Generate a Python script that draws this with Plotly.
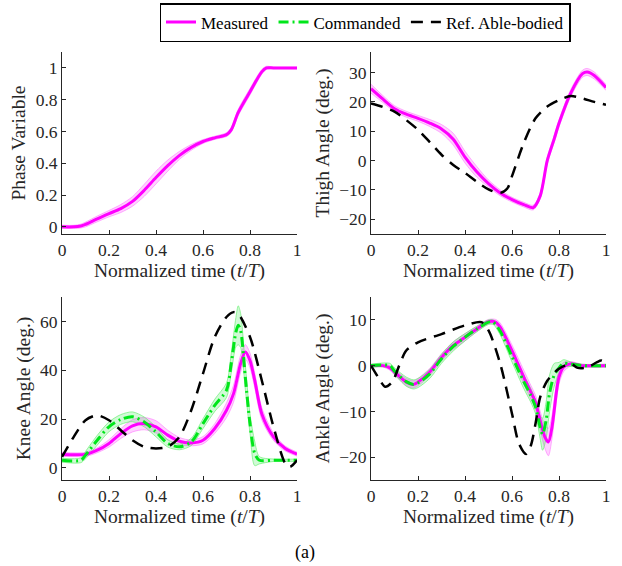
import plotly.graph_objects as go
from plotly.subplots import make_subplots

# ---------------- data ----------------
x_ticks = [0, 0.2, 0.4, 0.6, 0.8, 1]
x_tick_labels = ["0", "0.2", "0.4", "0.6", "0.8", "1"]

# Phase variable (measured)
phase_t = [0, 0.05, 0.08, 0.1, 0.15, 0.2, 0.25, 0.3, 0.35, 0.4, 0.45, 0.5, 0.55, 0.6, 0.65, 0.7,
           0.72, 0.75, 0.8, 0.85, 0.87, 0.9, 1.0]
phase_meas = [0, 0, 0.005, 0.015, 0.05, 0.083, 0.115, 0.16, 0.23, 0.31, 0.385, 0.45, 0.50, 0.537,
              0.56, 0.58, 0.61, 0.72, 0.85, 0.975, 1.0, 1.0, 1.0]
phase_sd = [0.01, 0.01, 0.012, 0.015, 0.018, 0.02, 0.025, 0.03, 0.038, 0.04, 0.035, 0.025, 0.018,
            0.012, 0.01, 0.012, 0.015, 0.02, 0.02, 0.015, 0.01, 0.005, 0.005]

# Thigh angle
thigh_t = [0, 0.05, 0.1, 0.15, 0.2, 0.25, 0.3, 0.35, 0.4, 0.45, 0.5, 0.55, 0.6, 0.65, 0.69, 0.72,
           0.75, 0.78, 0.8, 0.85, 0.9, 0.92, 0.95, 1.0]
thigh_meas = [24.5, 21, 17.7, 15.8, 14.4, 12.8, 10.8, 7.3, 1.2, -3.8, -7.8, -11, -13.3, -15, -16,
              -12, 0, 7.5, 12.7, 23, 29.6, 30.2, 29, 24.9]
thigh_sd = [1.5, 1.2, 1, 1, 1, 1.2, 1.5, 2, 2, 1.8, 1.2, 1, 0.8, 0.8, 0.8, 1, 1.2, 1.2, 1.2, 1.2,
            1.2, 1.2, 1.2, 1]
thigh_ref_t = [0, 0.05, 0.1, 0.15, 0.2, 0.25, 0.3, 0.35, 0.4, 0.45, 0.5, 0.55, 0.58, 0.6, 0.65,
               0.7, 0.75, 0.8, 0.85, 0.9, 0.95, 1.0]
thigh_ref = [19.5, 18.3, 16.7, 13.8, 10.5, 6.3, 2, -1.5, -4.2, -7.2, -9.8, -11, -9.5, -5.3, 6,
             14.4, 18.4, 20.6, 22, 21.2, 20, 19]

# Knee angle
knee_meas_t = [0, 0.1, 0.15, 0.2, 0.25, 0.3, 0.35, 0.4, 0.45, 0.5, 0.55, 0.6, 0.65, 0.7, 0.73,
               0.76, 0.78, 0.8, 0.82, 0.85, 0.9, 0.95, 1.0]
knee_meas = [5.5, 5.5, 7.2, 10, 14, 17.2, 18.1, 16.8, 13.4, 10.9, 10.2, 11.3, 16.1, 23.6, 30.4,
             42.7, 47.5, 44, 35.9, 22.2, 12.7, 7.9, 5.6]
knee_meas_sd = [0.8, 0.8, 1, 1.5, 2, 2.5, 2.5, 2.5, 2, 1.5, 1.2, 1.5, 2, 3, 3.5, 3.5, 3, 3, 3,
                2.5, 1.5, 1, 0.8]
knee_cmd_t = [0, 0.08, 0.1, 0.15, 0.2, 0.25, 0.3, 0.35, 0.4, 0.45, 0.5, 0.55, 0.6, 0.65, 0.7,
              0.72, 0.74, 0.75, 0.76, 0.78, 0.8, 0.82, 0.84, 0.9, 1.0]
knee_cmd = [3.1, 3.1, 5.2, 11.3, 16.8, 19.8, 20.9, 18.8, 14.7, 10, 8.6, 10.6, 18.1, 25.6, 31.8,
            42.7, 55.6, 58.4, 56.3, 37.2, 18.1, 5.9, 3.1, 3.1, 3.1]
knee_cmd_sd = [0.8, 1, 1.5, 2, 2, 2, 2, 2, 2, 1.5, 1.2, 1.5, 2, 2.5, 3, 4, 6, 8, 7, 5, 4, 5, 1.5,
               0.5, 0.5]
knee_ref_t = [0, 0.05, 0.1, 0.15, 0.2, 0.25, 0.3, 0.35, 0.4, 0.45, 0.5, 0.55, 0.6, 0.65, 0.7,
              0.73, 0.75, 0.8, 0.85, 0.9, 0.95, 0.97, 1.0]
knee_ref = [4.5, 12.7, 19.5, 21.5, 19.5, 15.4, 11.3, 8.6, 7.9, 8.6, 12.7, 23.6, 38.6, 53.6, 61.8,
            63.8, 63.1, 53.6, 35.9, 16.8, 1.8, 0.4, 3.1]

# Ankle angle
ankle_meas_t = [0, 0.05, 0.08, 0.1, 0.15, 0.18, 0.2, 0.25, 0.3, 0.35, 0.4, 0.45, 0.5, 0.53, 0.55,
                0.6, 0.65, 0.68, 0.7, 0.72, 0.74, 0.755, 0.77, 0.79, 0.8, 0.82, 0.85, 0.9, 1.0]
ankle_meas = [0, 0, -0.5, -1.4, -3.6, -4.1, -3.6, -1.4, 1.8, 4.4, 6.2, 8, 9.6, 9.5, 8.4, 3.3,
              -2.5, -5.8, -8, -12, -15.6, -16.7, -13.5, -5.4, -2.5, -0.3, 0.4, 0, 0]
ankle_meas_sd = [0.3, 0.3, 0.5, 0.6, 0.8, 0.8, 0.8, 0.8, 0.8, 0.8, 0.8, 0.6, 0.5, 0.6, 0.9, 1.2,
                 1.5, 1.5, 1.5, 2, 2.5, 3, 2.5, 2, 1.5, 1, 0.5, 0.3, 0.3]
ankle_cmd_t = [0, 0.08, 0.1, 0.15, 0.18, 0.2, 0.25, 0.3, 0.35, 0.4, 0.45, 0.5, 0.52, 0.55, 0.6,
               0.65, 0.68, 0.7, 0.72, 0.73, 0.745, 0.76, 0.78, 0.8, 0.82, 0.85, 0.9, 1.0]
ankle_cmd = [0, 0, -1.2, -3.5, -4.1, -3.8, -1.8, 1.5, 4.2, 6.2, 8, 9.5, 9.5, 7.5, 2, -3.5, -6.5,
             -9, -13.5, -15, -12, -6, -2, -0.5, 0.5, 0.3, 0, 0]
ankle_cmd_sd = [0.3, 0.5, 0.7, 1, 1, 1, 1, 1, 1, 0.8, 0.6, 0.5, 0.5, 0.8, 1.2, 1.5, 1.5, 1.5,
                2.5, 3.5, 4, 4, 2.5, 1.2, 0.8, 0.5, 0.3, 0.3]
ankle_ref_t = [0, 0.03, 0.06, 0.09, 0.12, 0.15, 0.2, 0.3, 0.4, 0.47, 0.5, 0.55, 0.6, 0.63, 0.66,
               0.68, 0.7, 0.72, 0.75, 0.8, 0.85, 0.88, 0.92, 0.96, 0.98, 1.0]
ankle_ref = [0, -2.5, -4.6, -3.6, 0, 3.3, 5.1, 6.9, 8.8, 9.5, 7.7, 0.4, -10.5, -17.1, -19.3,
             -17.5, -12.7, -6.9, -3.3, -0.7, 0.4, -0.5, -0.4, 0.7, 1.1, 0.4]

# ---------------- styling ----------------
FONT = "Liberation Serif"
MAG = "#ff00ff"
GRN = "#00e61a"
AX = "#262626"

fig = make_subplots(rows=2, cols=2)


def band(t, m, sd, row, col, fill, edge):
    lo = [a - b for a, b in zip(m, sd)]
    hi = [a + b for a, b in zip(m, sd)]
    fig.add_trace(go.Scatter(x=t, y=lo, mode="lines", line=dict(color=edge, width=1, shape="spline", smoothing=0.8),
                             showlegend=False, hoverinfo="skip"), row=row, col=col)
    fig.add_trace(go.Scatter(x=t, y=hi, mode="lines", fill="tonexty", fillcolor=fill,
                             line=dict(color=edge, width=1, shape="spline", smoothing=0.8),
                             showlegend=False, hoverinfo="skip"), row=row, col=col)


def meas(t, m, row, col, show=False):
    fig.add_trace(go.Scatter(x=t, y=m, mode="lines", name="Measured", legendrank=1, showlegend=show,
                             line=dict(color=MAG, width=3, shape="spline", smoothing=0.8)), row=row, col=col)


def cmd(t, m, row, col, show=False):
    fig.add_trace(go.Scatter(x=t, y=m, mode="lines", name="Commanded", legendrank=2, showlegend=show,
                             line=dict(color=GRN, width=3, dash="10px,4px,2px,4px", shape="spline",
                                       smoothing=0.8)), row=row, col=col)


def ref(t, m, row, col, show=False):
    fig.add_trace(go.Scatter(x=t, y=m, mode="lines", name="Ref. Able-bodied", legendrank=3, showlegend=show,
                             line=dict(color="black", width=2.5, dash="12px,8px", shape="spline",
                                       smoothing=0.8)), row=row, col=col)


MAG_FILL, MAG_EDGE = "rgba(255,0,255,0.18)", "rgba(255,120,255,0.6)"
GRN_FILL, GRN_EDGE = "rgba(0,230,30,0.18)", "rgba(110,240,120,0.7)"

# panel 1
band(phase_t, phase_meas, phase_sd, 1, 1, MAG_FILL, MAG_EDGE)
meas(phase_t, phase_meas, 1, 1, show=True)
# panel 2
band(thigh_t, thigh_meas, thigh_sd, 1, 2, MAG_FILL, MAG_EDGE)
meas(thigh_t, thigh_meas, 1, 2)
ref(thigh_ref_t, thigh_ref, 1, 2, show=True)
# panel 3
band(knee_meas_t, knee_meas, knee_meas_sd, 2, 1, MAG_FILL, MAG_EDGE)
band(knee_cmd_t, knee_cmd, knee_cmd_sd, 2, 1, GRN_FILL, GRN_EDGE)
meas(knee_meas_t, knee_meas, 2, 1)
cmd(knee_cmd_t, knee_cmd, 2, 1, show=True)
ref(knee_ref_t, knee_ref, 2, 1)
# panel 4
band(ankle_meas_t, ankle_meas, ankle_meas_sd, 2, 2, MAG_FILL, MAG_EDGE)
band(ankle_cmd_t, ankle_cmd, ankle_cmd_sd, 2, 2, GRN_FILL, GRN_EDGE)
meas(ankle_meas_t, ankle_meas, 2, 2)
cmd(ankle_cmd_t, ankle_cmd, 2, 2)
ref(ankle_ref_t, ankle_ref, 2, 2)

W, H = 622, 566
dom_x = [[62 / W, 297 / W], [371 / W, 606 / W]]
dom_y = [[1 - 234 / H, 1 - 52 / H], [1 - 480 / H, 1 - 297 / H]]

axis_common = dict(showline=True, linecolor=AX, linewidth=1, ticks="inside", ticklen=4,
                   tickcolor=AX, showgrid=False, zeroline=False, mirror=False, automargin=False,
                   tickfont=dict(family=FONT, size=17.5, color=AX))

ylabels = ["Phase Variable", "Thigh Angle (deg.)", "Knee Angle (deg.)", "Ankle Angle (deg.)"]
yranges = [[-0.045, 1.1], [-25, 37], [-5, 70], [-25, 15]]
yticks = [[0, 0.2, 0.4, 0.6, 0.8, 1], [-20, -10, 0, 10, 20, 30], [0, 20, 40, 60], [-20, -10, 0, 10]]
yticktext = [["0", "0.2", "0.4", "0.6", "0.8", "1"], None, None, None]

for i in range(4):
    r, c = i // 2, i % 2
    sfx = "" if i == 0 else str(i + 1)
    fig.layout["xaxis" + sfx].update(
        domain=dom_x[c], range=[0, 1], tickvals=x_ticks, ticktext=x_tick_labels,
        title=dict(text="Normalized time (<i>t</i>/<i>T</i>)", font=dict(family=FONT, size=19.5, color=AX),
                   standoff=2), **axis_common)
    yk = dict(domain=dom_y[r], range=yranges[i], tickvals=yticks[i],
              title=dict(text=ylabels[i], font=dict(family=FONT, size=19.5, color=AX), standoff=4),
              **axis_common)
    if yticktext[i]:
        yk["ticktext"] = yticktext[i]
    fig.layout["yaxis" + sfx].update(**yk)

fig.update_layout(
    width=W, height=H, margin=dict(l=0, r=0, t=0, b=0),
    paper_bgcolor="white", plot_bgcolor="white",
    font=dict(family=FONT, size=17, color="black"),
    legend=dict(orientation="h", x=365 / W, xanchor="center", y=1 - 3 / H, yanchor="top",
                traceorder="normal",
                bordercolor="black", borderwidth=1.5, bgcolor="white",
                font=dict(family=FONT, size=17, color="black"), itemwidth=30),
    annotations=[dict(text="(a)", x=305 / W, y=1 - 552 / H, xref="paper", yref="paper",
                      xanchor="center", yanchor="middle",
                      showarrow=False, font=dict(family=FONT, size=18, color="black"))],
)

fig.write_html("out.html", config={"displayModeBar": False},
               post_script="document.body.style.margin='0';document.body.style.overflow='hidden';")
